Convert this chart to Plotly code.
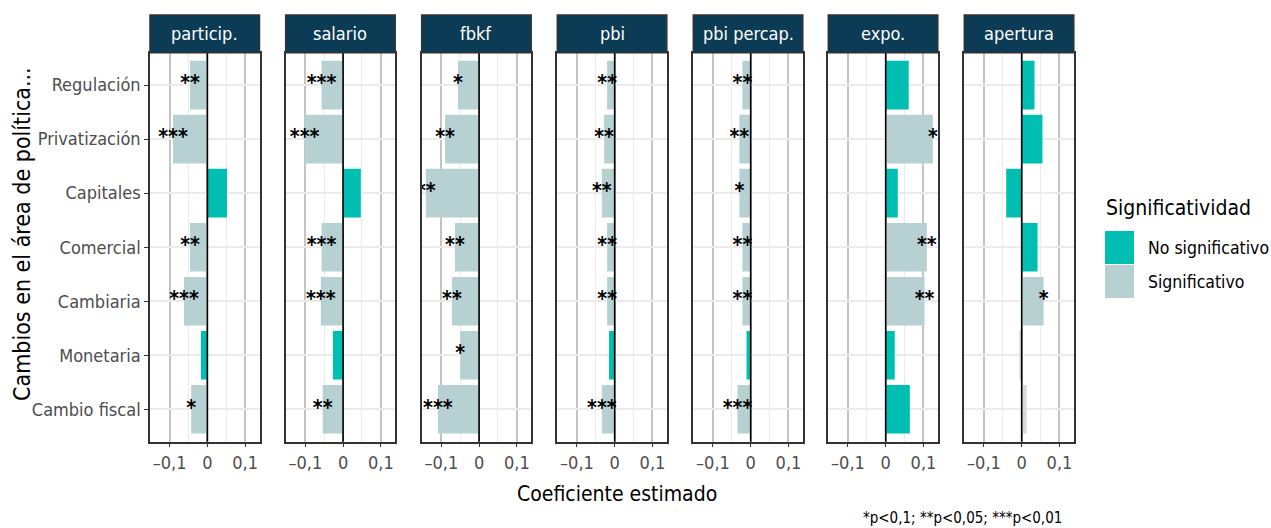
import plotly.graph_objects as go

# ---- data -------------------------------------------------------------
categorias = ["Regulación", "Privatización", "Capitales", "Comercial",
              "Cambiaria", "Monetaria", "Cambio fiscal"]

paneles = ["particip.", "salario", "fbkf", "pbi", "pbi percap.", "expo.", "apertura"]

coef_particip = [-0.046, -0.091, 0.052, -0.046, -0.062, -0.017, -0.043]
coef_salario = [-0.057, -0.102, 0.047, -0.057, -0.059, -0.027, -0.054]
coef_fbkf = [-0.056, -0.090, -0.141, -0.064, -0.072, -0.050, -0.109]
coef_pbi = [-0.020, -0.028, -0.034, -0.020, -0.020, -0.015, -0.034]
coef_pbi_percap = [-0.022, -0.030, -0.030, -0.022, -0.022, -0.011, -0.035]
coef_expo = [0.061, 0.125, 0.032, 0.109, 0.103, 0.024, 0.064]
coef_apertura = [0.034, 0.055, -0.041, 0.042, 0.058, -0.006, 0.013]

# significance stars ("" = not significant, None = not available)
sig_particip = ["**", "***", "", "**", "***", "", "*"]
sig_salario = ["***", "***", "", "***", "***", "", "**"]
sig_fbkf = ["*", "**", "**", "**", "**", "*", "***"]
sig_pbi = ["**", "**", "**", "**", "**", "", "***"]
sig_pbi_percap = ["**", "**", "*", "**", "**", "", "***"]
sig_expo = ["", "*", "", "**", "**", "", ""]
sig_apertura = ["", "", "", "", "*", None, None]

x_ticks = [-0.1, 0, 0.1]
x_tick_labels = ["\u20130,1", "0", "0,1"]

leyenda = ["No significativo", "Significativo"]
nota = "*p<0,1; **p<0,05; ***p<0,01"

coefs = [coef_particip, coef_salario, coef_fbkf, coef_pbi,
         coef_pbi_percap, coef_expo, coef_apertura]
sigs = [sig_particip, sig_salario, sig_fbkf, sig_pbi,
        sig_pbi_percap, sig_expo, sig_apertura]

# ---- styling ----------------------------------------------------------
W, H = 1271, 528
FONT = "DejaVu Sans Condensed, Roboto, sans-serif"
C_NO_SIG = "#00BFB2"
C_SIG = "#B7D1D3"
C_NA = "#D9D9D9"
STRIP = "#0B3B55"
BORDER = "#333333"

panel_left = [150, 285.7, 421.7, 557.3, 693.3, 828.3, 964.3]
panel_w = 109.5
panel_top, panel_bot = 52.7, 441.7
strip_top = 15

def px(x):
    return x / W

def py(y):
    return 1 - y / H

def color_for(s):
    if s is None:
        return C_NA
    return C_SIG if s else C_NO_SIG

fig = go.Figure()
layout = dict(
    width=W, height=H,
    margin=dict(l=0, r=0, t=0, b=0),
    paper_bgcolor="white", plot_bgcolor="white",
    showlegend=False,
    font=dict(family=FONT, color="#222222"),
    bargap=0.1,
)
shapes = []
annotations = []

for i, (name, vals, stars) in enumerate(zip(paneles, coefs, sigs)):
    k = "" if i == 0 else str(i + 1)
    xa, ya = "x" + k, "y" + k
    fig.add_trace(go.Bar(
        x=vals, y=categorias, orientation="h", width=0.9,
        marker=dict(color=[color_for(s) for s in stars], line=dict(width=0)),
        xaxis=xa, yaxis=ya, hoverinfo="x+y",
    ))
    fig.add_trace(go.Scatter(
        x=vals, y=categorias, mode="text",
        text=[s if s else "" for s in stars],
        textposition="middle center",
        textfont=dict(size=21, color="black", family=FONT, weight="bold"),
        xaxis=xa, yaxis=ya, hoverinfo="skip",
    ))
    L = panel_left[i]
    layout["xaxis" + k] = dict(
        domain=[px(L), px(L + panel_w)],
        range=[-0.152, 0.138],
        tickvals=x_ticks, ticktext=x_tick_labels,
        ticks="outside", ticklen=4, tickwidth=1.2, tickcolor=BORDER,
        tickfont=dict(size=18, color="#4D4D4D", family=FONT),
        showgrid=True, gridcolor="#C4C4C4", gridwidth=1.6,
        minor=dict(tickvals=[-0.05, 0.05], showgrid=True,
                   gridcolor="#EBEBEB", gridwidth=1.2),
        zeroline=False,
        showline=True, mirror=True, linecolor=BORDER, linewidth=1.5,
        anchor=ya, fixedrange=True,
    )
    layout["yaxis" + k] = dict(
        domain=[py(panel_bot), py(panel_top)],
        type="category", categoryorder="array", categoryarray=categorias,
        range=[6.6, -0.6],
        showgrid=True, gridcolor="#EBEBEB", gridwidth=1.5,
        zeroline=False,
        showline=True, mirror=True, linecolor=BORDER, linewidth=1.5,
        ticks="outside" if i == 0 else "", ticklen=4, tickwidth=1.2,
        tickcolor=BORDER,
        showticklabels=(i == 0),
        tickfont=dict(size=18, color="#4D4D4D", family=FONT),
        anchor=xa, fixedrange=True,
    )
    if i > 0:
        layout["yaxis" + k]["matches"] = "y"
    # reference line at zero
    shapes.append(dict(type="line", xref=xa, yref=ya + " domain",
                       x0=0, x1=0, y0=0, y1=1,
                       line=dict(color="black", width=1.6), layer="above"))
    # facet strip
    shapes.append(dict(type="rect", xref="paper", yref="paper",
                       x0=px(L), x1=px(L + panel_w),
                       y0=py(panel_top), y1=py(strip_top),
                       fillcolor=STRIP, line=dict(color=BORDER, width=1.5),
                       layer="above"))
    annotations.append(dict(text=name, xref="paper", yref="paper",
                            x=px(L + panel_w / 2), y=py((panel_top + strip_top) / 2),
                            xanchor="center", yanchor="middle", showarrow=False,
                            font=dict(size=18, color="white", family=FONT)))

# axis titles
annotations.append(dict(text="Coeficiente estimado", xref="paper", yref="paper",
                        x=px(617), y=py(494), xanchor="center", yanchor="middle",
                        showarrow=False, font=dict(size=21, color="black", family=FONT)))
annotations.append(dict(text="Cambios en el área de política...", xref="paper", yref="paper",
                        x=px(22), y=py(234), xanchor="center", yanchor="middle",
                        textangle=-90, showarrow=False,
                        font=dict(size=23, color="black", family=FONT)))
# caption
annotations.append(dict(text=nota, xref="paper", yref="paper",
                        x=px(1064), y=py(518), xanchor="right", yanchor="middle",
                        showarrow=False, font=dict(size=15, color="black", family=FONT)))

# legend
annotations.append(dict(text="Significatividad", xref="paper", yref="paper",
                        x=px(1104), y=py(208), xanchor="left", yanchor="middle",
                        showarrow=False, font=dict(size=21, color="black", family=FONT)))
for j, (lab, col) in enumerate(zip(leyenda, [C_NO_SIG, C_SIG])):
    y0 = 231 + j * 34
    shapes.append(dict(type="rect", xref="paper", yref="paper",
                       x0=px(1105), x1=px(1134), y0=py(y0 + 33), y1=py(y0),
                       fillcolor=col, line=dict(width=0)))
    annotations.append(dict(text=lab, xref="paper", yref="paper",
                            x=px(1146), y=py(y0 + 16.5), xanchor="left", yanchor="middle",
                            showarrow=False, font=dict(size=17.5, color="black", family=FONT)))

layout["shapes"] = shapes
layout["annotations"] = annotations
fig.update_layout(**layout)
fig.write_html("out.html")
